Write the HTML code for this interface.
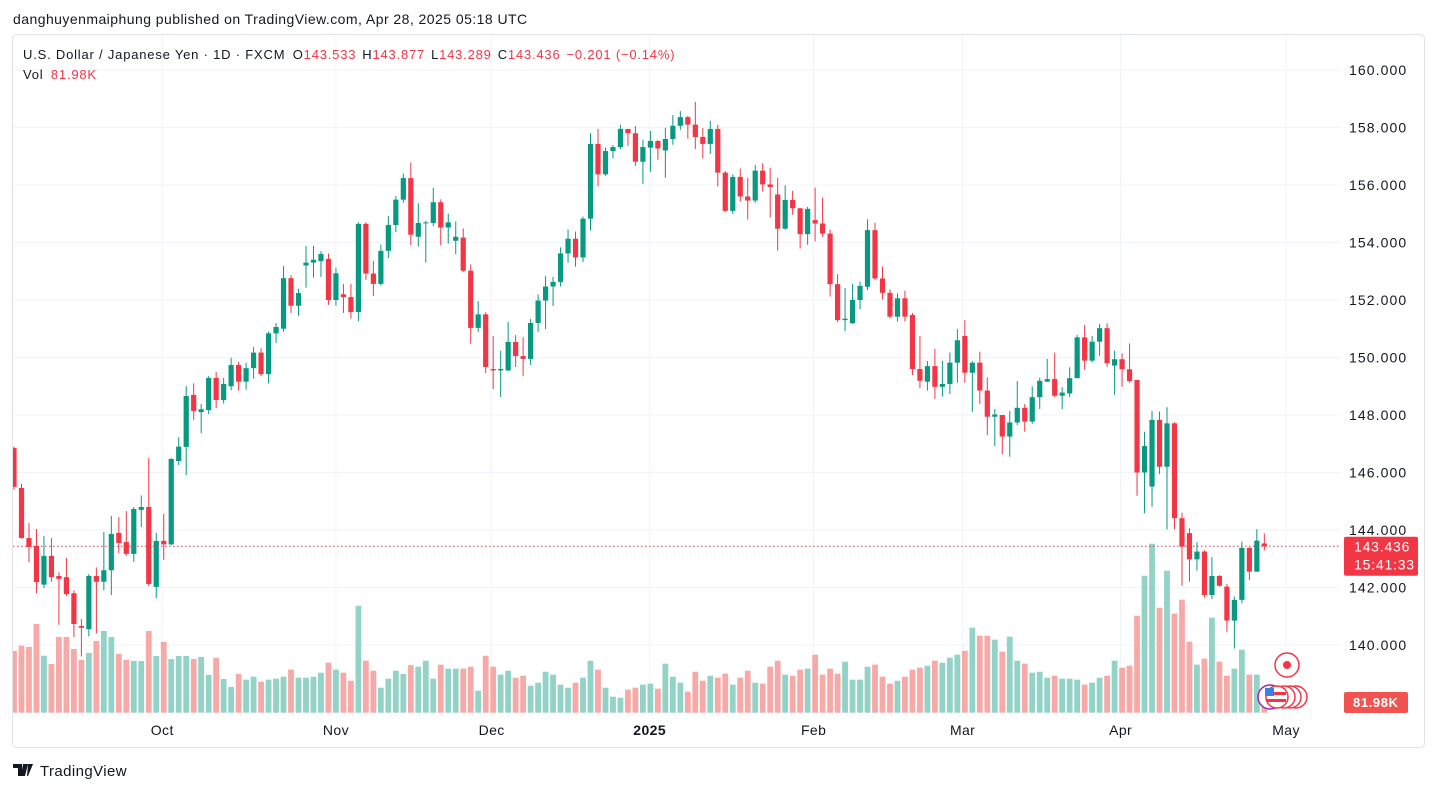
<!DOCTYPE html>
<html><head><meta charset="utf-8"><style>
html,body{margin:0;padding:0;background:#fff;}
svg{display:block;font-family:"Liberation Sans",sans-serif;}
</style></head><body>
<svg id="chart" width="1438" height="792" viewBox="0 0 1438 792" xmlns="http://www.w3.org/2000/svg">
<defs><clipPath id="plotclip"><rect x="13" y="35" width="1327" height="678"/></clipPath></defs>
<text x="13" y="24" font-size="14" letter-spacing="0.45" fill="#131722">danghuyenmaiphung published on TradingView.com, Apr 28, 2025 05:18 UTC</text>
<rect x="12.5" y="34.5" width="1412" height="713" rx="4" fill="#fff" stroke="#e0e3eb"/>
<g id="grid"></g>
<g id="vol" clip-path="url(#plotclip)"></g>
<g id="candles" clip-path="url(#plotclip)"></g>
<g id="yaxis"></g>
<g id="xaxis"></g>
<g font-size="13" letter-spacing="0.8">
<text x="23" y="59" fill="#131722">U.S. Dollar / Japanese Yen · 1D · FXCM <tspan dx="3">O</tspan><tspan fill="#f23645">143.533</tspan><tspan dx="6">H</tspan><tspan fill="#f23645">143.877</tspan><tspan dx="6">L</tspan><tspan fill="#f23645">143.289</tspan><tspan dx="6">C</tspan><tspan fill="#f23645">143.436</tspan><tspan dx="6" fill="#f23645">−0.201 (−0.14%)</tspan></text>
<text x="23" y="79" fill="#131722">Vol <tspan dx="3" fill="#f23645">81.98K</tspan></text>
</g>
<g>
<circle cx="1287" cy="665" r="12" fill="#fff" stroke="#f23645" stroke-width="1.5"/>
<circle cx="1287" cy="665" r="4" fill="#f23645"/>
<circle cx="1270" cy="697" r="12" fill="#fff" stroke="#9c27b0" stroke-width="1.5"/>
<circle cx="1296" cy="697" r="11" fill="#fff" stroke="#f23645" stroke-width="1.5"/>
<circle cx="1290" cy="697" r="11" fill="#fff" stroke="#f23645" stroke-width="1.5"/>
<circle cx="1284" cy="697" r="11" fill="#fff" stroke="#f23645" stroke-width="1.5"/>
<circle cx="1277" cy="697" r="11" fill="#fff" stroke="#f23645" stroke-width="1.5"/>
<rect x="1266" y="692" width="20" height="3" fill="#f23645"/><rect x="1266" y="699" width="20" height="3" fill="#f23645"/>
<rect x="1265" y="688" width="9" height="8" fill="#3d7fe0"/>
</g>
<g>
<path d="M13 764h9v12h-4v-8h-5z M23 764h5l-3 12h-4z M28 764h5l-5 12h-1z" fill="#131722"/>
<text x="40" y="776" font-size="15" letter-spacing="0.4" fill="#131722">TradingView</text>
</g>
</svg>
<script>
const opens=[146.85,145.46,143.72,143.44,142.1,143.1,142.4,142.36,141.8,140.66,140.55,142.4,142.2,142.6,143.9,143.58,143.17,144.7,144.8,142.02,143.62,143.5,146.4,146.89,148.7,148.1,148.17,149.29,148.52,149.0,149.74,149.16,149.63,150.17,149.42,150.84,151.0,152.76,151.8,153.2,153.3,153.35,153.43,152.0,152.2,152.1,151.58,154.65,152.92,152.56,153.71,154.61,155.49,156.24,154.2,154.68,154.68,155.4,154.52,154.06,154.17,153.02,151.03,151.5,149.6,149.55,149.55,150.54,150.05,149.95,151.2,151.98,152.47,152.63,153.62,154.13,153.48,154.83,157.43,156.37,157.18,157.32,157.95,157.8,156.81,157.3,157.53,157.2,157.6,158.06,158.36,158.1,157.67,157.43,157.95,156.43,155.1,156.28,155.6,155.46,156.5,156.02,155.67,154.48,155.48,155.19,154.29,154.78,154.66,154.31,152.55,151.3,151.19,152.0,152.46,154.43,152.75,152.25,151.42,152.06,151.48,149.6,149.16,149.7,148.98,149.08,149.82,150.75,149.47,149.82,148.85,147.94,148.0,147.25,147.74,148.25,147.77,148.62,149.16,149.25,148.67,148.75,149.28,150.7,149.89,150.55,151.02,149.72,149.94,149.59,149.22,146.0,145.51,147.83,146.2,147.71,144.41,143.89,142.98,143.25,141.74,142.4,142.03,140.85,141.57,143.38,142.55,143.533];
const highs=[146.9,145.6,144.24,144.03,143.8,143.72,142.53,143.03,141.9,140.9,142.47,142.7,143.93,144.49,144.45,144.66,144.8,145.2,146.5,143.9,144.56,146.5,147.23,149.0,149.1,148.38,149.35,149.5,149.29,149.99,149.85,149.82,150.36,150.32,150.9,151.2,153.18,152.86,152.39,153.88,153.88,153.7,153.62,153.12,152.56,152.56,154.7,154.7,153.36,153.93,154.92,155.62,156.4,156.78,155.36,154.75,155.9,155.5,155.0,154.73,154.49,153.24,151.96,151.57,150.75,150.23,151.23,150.78,150.71,151.34,152.19,152.83,152.8,153.83,154.45,154.38,154.9,157.8,157.95,157.3,157.39,158.09,157.95,158.05,157.57,157.88,157.57,157.99,158.43,158.57,158.4,158.89,157.98,158.23,158.09,156.49,156.37,156.57,156.25,156.7,156.76,156.6,156.25,155.99,155.8,155.2,155.24,155.91,155.56,154.45,152.9,152.42,152.56,152.64,154.81,154.69,153.16,152.37,152.23,152.32,151.55,150.75,149.88,150.3,149.88,150.17,150.99,151.3,149.88,150.2,149.31,148.21,148.0,148.14,149.18,148.38,149.0,149.3,149.95,150.17,148.97,149.66,150.78,151.13,150.75,151.17,151.19,150.24,150.15,150.49,149.22,147.42,148.14,148.12,148.27,147.75,144.6,144.06,143.58,143.3,143.06,142.43,142.12,141.68,143.6,143.4,144.03,143.877];
const lows=[145.4,143.7,142.88,141.8,141.98,142.2,140.7,141.7,140.28,139.6,140.3,140.4,141.9,141.74,143.2,143.1,142.89,144.1,142.05,141.63,142.96,143.47,146.26,145.91,147.83,147.37,148.03,148.24,148.4,148.86,148.85,148.88,149.26,149.35,149.1,150.5,150.9,151.55,151.45,152.43,152.78,152.8,151.83,151.8,151.55,151.35,151.26,152.7,152.14,152.5,153.46,154.36,155.38,153.9,153.86,153.3,154.57,153.9,153.96,153.59,152.97,150.47,150.89,149.46,148.9,148.63,149.53,149.67,149.36,149.74,150.89,150.99,151.79,152.47,153.3,153.16,153.32,154.42,155.95,156.32,156.92,157.25,157.36,156.67,156.04,156.46,156.88,156.25,157.4,157.92,157.61,157.25,156.92,157.08,155.95,155.05,155.0,155.42,154.8,155.38,155.77,154.87,153.72,154.45,154.96,153.79,153.92,154.04,154.2,152.12,151.23,150.92,151.17,151.68,152.35,152.7,152.02,151.36,151.25,151.25,149.39,148.93,148.85,148.56,148.64,148.73,149.12,149.12,148.11,148.38,147.3,146.92,146.64,146.55,147.65,147.42,147.69,148.21,149.15,148.62,148.2,148.62,149.28,149.57,149.83,150.06,149.68,148.7,148.98,149.12,145.19,144.58,144.81,145.95,144.02,144.02,142.06,142.2,142.59,141.65,141.6,142.03,140.46,139.88,141.45,142.26,142.55,143.289];
const closes=[145.5,143.72,143.41,142.19,143.1,142.36,142.3,141.77,140.73,140.6,142.4,142.2,142.6,143.86,143.55,143.17,144.73,144.8,142.12,143.62,143.5,146.47,146.9,148.66,148.14,148.2,149.29,148.52,149.08,149.74,149.16,149.63,150.17,149.42,150.84,151.06,152.76,151.8,152.24,153.3,153.4,153.6,152.0,152.93,152.1,151.58,154.65,152.92,152.56,153.71,154.61,155.49,156.24,154.27,154.68,154.7,155.4,154.52,154.7,154.2,153.02,151.03,151.5,149.67,149.55,149.6,150.54,150.05,149.95,151.2,151.98,152.47,152.63,153.62,154.13,153.48,154.83,157.43,156.37,157.18,157.32,157.95,157.8,156.81,157.32,157.53,157.27,157.6,158.06,158.36,158.1,157.67,157.43,157.95,156.43,155.1,156.28,155.6,155.46,156.5,156.02,155.93,154.48,155.48,155.19,154.29,155.17,154.66,154.31,152.55,151.3,151.35,152.0,152.49,154.43,152.75,152.25,151.42,152.06,151.42,149.6,149.19,149.7,148.98,149.08,149.82,150.6,149.47,149.82,148.85,147.94,148.02,147.25,147.74,148.25,147.77,148.62,149.19,149.25,148.67,148.78,149.28,150.7,149.89,150.55,151.02,149.8,149.94,149.59,149.18,146.0,146.92,147.83,146.2,147.71,144.41,143.42,142.98,143.25,141.74,142.4,142.06,140.85,141.57,143.38,142.55,143.63,143.436];
const volumes=[506,549,539,727,467,399,621,621,522,432,490,588,670,621,481,432,424,424,670,465,580,440,465,465,440,457,309,449,276,211,317,271,295,254,271,279,295,353,287,287,295,328,410,353,328,262,877,426,344,205,279,344,317,390,377,426,279,394,361,361,361,377,180,467,377,312,344,287,303,221,246,336,312,230,205,246,287,426,353,205,131,123,189,205,230,238,197,402,295,246,172,336,262,303,287,320,230,287,344,246,238,377,426,312,303,353,361,476,312,361,320,418,271,271,377,394,295,238,262,295,353,369,385,426,410,451,476,508,697,631,631,599,500,623,426,402,328,336,287,303,279,279,271,230,246,287,303,426,369,385,795,1123,1386,861,1164,812,927,582,394,443,779,418,303,361,517,312,312,82];
const priceTicks=[160,158,156,154,152,150,148,146,144,142,140];
const timeLabels=["Oct","Nov","Dec","2025","Feb","Mar","Apr","May"];
const timeIndex=[19.8,43.0,63.8,84.9,106.8,126.7,147.8,169.9];
const lastPrice=143.436;

const NS="http://www.w3.org/2000/svg";
const X0=14, DX=7.487, PLEFT=13, PRIGHT=1340;
function xAt(i){return X0+i*DX;}
function yAt(p){return 70+(160-p)*28.75;}
const VBASE=712.7, VSCALE=1/8.2;
function vh(v){return v*VSCALE;}
function mk(tag,attrs,parent){const e=document.createElementNS(NS,tag);for(const k in attrs)e.setAttribute(k,attrs[k]);parent.appendChild(e);return e;}

const grid=document.getElementById('grid');
priceTicks.forEach(p=>{
  const l=mk('line',{x1:PLEFT,x2:PRIGHT,y1:yAt(p),y2:yAt(p),stroke:'#f0f3fa','stroke-width':1},grid);
  
  
});
timeIndex.forEach(t=>{
  const l=mk('line',{x1:xAt(t),x2:xAt(t),y1:35,y2:713,stroke:'#f0f3fa','stroke-width':1},grid);
  
  
});

const vol=document.getElementById('vol');
volumes.forEach((v,i)=>{
  const up=closes[i]>=opens[i];
  const h=vh(v);
  const r=mk('rect',{x:xAt(i)-2.9,y:VBASE-h,width:5.8,height:h,fill:up?'#92d2c7':'#f7a9a7'},vol);
  
  
});

const cg=document.getElementById('candles');
opens.forEach((o,i)=>{
  const c=closes[i],up=c>=o,col=up?'#089981':'#f23645',x=xAt(i);
  const g=mk('g',{},cg);
  
  
  mk('line',{x1:x,x2:x,y1:yAt(highs[i]),y2:yAt(lows[i]),stroke:col,'stroke-width':1},g);
  const top=yAt(Math.max(o,c)),bot=yAt(Math.min(o,c));
  mk('rect',{x:x-2.6,y:top,width:5.2,height:Math.max(1,bot-top),fill:col},g);
});

const ly=yAt(lastPrice);
const pl=mk('line',{x1:PLEFT,x2:PRIGHT,y1:ly,y2:ly,stroke:'#f23645','stroke-width':1,'stroke-dasharray':'1.5 2.5'},cg);



const ya=document.getElementById('yaxis');
priceTicks.forEach(p=>{
  const t=mk('text',{x:1349,y:yAt(p)+5,'font-size':14,'letter-spacing':1.1,fill:'#131722'},ya);
  t.textContent=p.toFixed(3);
  
  
});
const pb=mk('g',{},ya);


mk('rect',{x:1344,y:ly-9.5,width:74,height:39,rx:2,fill:'#f23645'},pb);
const t1=mk('text',{x:1354,y:ly+5.5,'font-size':14,'letter-spacing':0.8,fill:'#fff'},pb);t1.textContent=lastPrice.toFixed(3);
const t2=mk('text',{x:1354,y:ly+23.5,'font-size':14,'letter-spacing':0.8,fill:'#fff'},pb);t2.textContent='15:41:33';
const vb=mk('g',{},ya);


mk('rect',{x:1344,y:692,width:64,height:21,rx:2,fill:'#f05350'},vb);
const t3=mk('text',{x:1353,y:707,'font-size':13,'font-weight':'bold','letter-spacing':0.6,fill:'#fff'},vb);
t3.textContent=(volumes[volumes.length-1]-0.02).toFixed(2)+'K';

const xa=document.getElementById('xaxis');
timeLabels.forEach((s,k)=>{
  const t=mk('text',{x:xAt(timeIndex[k]),y:735,'font-size':14,'text-anchor':'middle','letter-spacing':0.4,fill:'#131722','font-weight':s==='2025'?'bold':'normal'},xa);
  t.textContent=s;
  
  
});
</script>
</body></html>
